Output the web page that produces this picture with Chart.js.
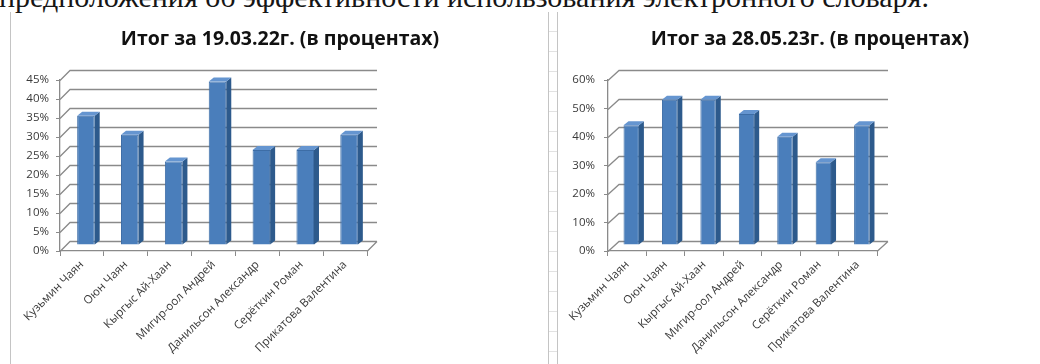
<!DOCTYPE html>
<html>
<head>
<meta charset="utf-8">
<script src="https://cdn.jsdelivr.net/npm/chart.js@4.4.1/dist/chart.umd.min.js"></script>
<style>
  html, body { margin: 0; padding: 0; background: #fff; }
  body { position: relative; width: 1040px; height: 364px; overflow: hidden; }
  #lead {
    position: absolute; left: -1px; top: -20px;
    font: 30px "Liberation Serif", "DejaVu Serif", serif;
    color: #161616; white-space: nowrap;
  }
  .rule { position: absolute; top: 12px; bottom: 0; width: 1px; background: #c4c4c4; }
  #ladder {
    position: absolute; left: 548px; top: 12px; bottom: 0; width: 8px;
    border-left: 1px solid #c4c4c4; border-right: 1px solid #c4c4c4;
    background: repeating-linear-gradient(to bottom, transparent 0 19px, #e2e2e2 19px 20px);
  }
  .panel { position: absolute; top: 0; }
  #p1 { left: 0; width: 550px; height: 364px; }
  #p2 { left: 560px; width: 500px; height: 364px; }
</style>
</head>
<body>
<div id="lead">предположения об эффективности использования электронного словаря.</div>
<div class="rule" style="left:10px"></div>
<div id="ladder"></div>
<div class="panel" id="p1"><canvas id="c1" width="550" height="364"></canvas></div>
<div class="panel" id="p2"><canvas id="c2" width="500" height="364"></canvas></div>

<script>
// Students
const students = [
  'Кузьмин Чаян',
  'Оюн Чаян',
  'Кыргыс Ай-Хаан',
  'Мигир-оол Андрей',
  'Данильсон Александр',
  'Серёткин Роман',
  'Прикатова Валентина'
];

// Results, percent
const result190322 = [34, 29, 22, 43, 25, 25, 29];
const result280523 = [42, 51, 51, 46, 38, 29, 42];

// Value axis ranges
const axisMax190322 = 45, axisStep190322 = 5;
const axisMax280523 = 60, axisStep280523 = 10;

const title190322 = 'Итог за 19.03.22г. (в процентах)';
const title280523 = 'Итог за 28.05.23г. (в процентах)';

const GRID = '#8a8a8a';
const TEXT = '#3a3a3a';
const FONT = '"Open Sans", "Liberation Sans", sans-serif';

// Draws the back wall / floor of a 3-D column chart and gives the bars depth.
const depth3d = {
  id: 'depth3d',
  beforeDatasetsDraw(chart, args, o) {
    const ctx = chart.ctx, area = chart.chartArea, ys = chart.scales.y;
    ctx.save();
    ctx.strokeStyle = GRID;
    ctx.lineWidth = 1.3;
    ctx.beginPath();
    ys.ticks.forEach(t => {
      const py = Math.round(ys.getPixelForValue(t.value)) + 0.5;
      ctx.moveTo(area.left, py);
      ctx.lineTo(area.left + o.wallX, py - o.wallY);
      ctx.lineTo(area.right + o.wallX, py - o.wallY);
    });
    const p0 = Math.round(ys.getPixelForValue(0)) + 0.5;
    ctx.moveTo(area.right, p0);
    ctx.lineTo(area.right + o.wallX, p0 - o.wallY);
    ctx.stroke();
    ctx.restore();
    // columns stand a little behind the front edge of the floor
    ctx.save();
    ctx.translate(o.shiftX, -o.shiftY);
  },
  afterDatasetsDraw(chart, args, o) {
    const ctx = chart.ctx;
    chart.getDatasetMeta(0).data.forEach(bar => {
      const { x, y, base, width } = bar.getProps(['x', 'y', 'base', 'width'], true);
      const l = x - width / 2, r = x + width / 2;
      ctx.fillStyle = o.sideColor;
      ctx.beginPath();
      ctx.moveTo(r, y);
      ctx.lineTo(r + o.depthX, y - o.depthY);
      ctx.lineTo(r + o.depthX, base - o.depthY);
      ctx.lineTo(r, base);
      ctx.closePath();
      ctx.fill();
      ctx.fillStyle = o.topColor;
      ctx.beginPath();
      ctx.moveTo(l, y);
      ctx.lineTo(l + o.depthX, y - o.depthY);
      ctx.lineTo(r + o.depthX, y - o.depthY);
      ctx.lineTo(r, y);
      ctx.closePath();
      ctx.fill();
    });
    ctx.restore();
  }
};

function makeChart(canvasId, title, values, max, step, geo) {
  return new Chart(document.getElementById(canvasId), {
    type: 'bar',
    data: {
      labels: students,
      datasets: [{
        data: values,
        backgroundColor: '#4a7ebb',
        borderColor: '#3d6da6',
        borderWidth: 1,
        barPercentage: 0.4,
        categoryPercentage: 1,
        clip: false
      }]
    },
    plugins: [depth3d],
    options: {
      responsive: false,
      animation: false,
      events: [],
      layout: { padding: { left: geo.padLeft, right: 0, top: 0, bottom: 0 } },
      plugins: {
        legend: { display: false },
        tooltip: { enabled: false },
        title: {
          display: true,
          text: title,
          color: '#111',
          font: { family: FONT, size: 19.5, weight: 'bold', lineHeight: 1.2 },
          padding: { top: 28, bottom: 28.6 }
        },
        depth3d: {
          wallX: geo.wallX, wallY: 10,
          shiftX: 4, shiftY: 6,
          depthX: 5, depthY: 4,
          sideColor: '#2d5a8c',
          topColor: '#6595d0'
        }
      },
      scales: {
        x: {
          grid: { display: true, drawOnChartArea: false, drawTicks: true, tickLength: 5, color: GRID, offset: true },
          border: { display: true, color: GRID, width: 1.3 },
          ticks: {
            color: TEXT, autoSkip: false, minRotation: 45, maxRotation: 45, padding: 2,
            font: { family: FONT, size: 11.5 }
          },
          afterFit(s) { s.height = 113; }
        },
        y: {
          min: 0, max: max,
          grid: { display: true, drawOnChartArea: false, drawTicks: true, tickLength: 4, color: GRID },
          border: { display: true, color: GRID, width: 1.3 },
          ticks: {
            stepSize: step, color: TEXT, padding: geo.tickPad,
            font: { family: FONT, size: 11.5 },
            callback: v => v + '%'
          },
          afterFit(s) { s.width = geo.yWidth; }
        },
        room: {
          type: 'linear', position: 'right', display: true,
          grid: { display: false }, border: { display: false }, ticks: { display: false },
          afterFit(s) { s.width = geo.roomRight; }
        }
      }
    }
  });
}

makeChart('c1', title190322, result190322, axisMax190322, axisStep190322,
  { padLeft: 10, yWidth: 50, roomRight: 183, tickPad: 7, wallX: 10 });
makeChart('c2', title280523, result280523, axisMax280523, axisStep280523,
  { padLeft: 0, yWidth: 48, roomRight: 183, tickPad: 9, wallX: 11 });
</script>
</body>
</html>
